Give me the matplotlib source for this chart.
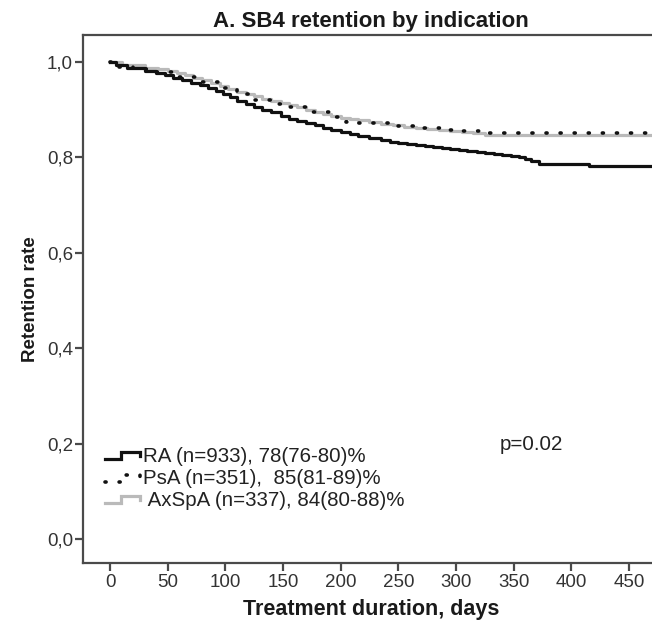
import matplotlib
matplotlib.use("Agg")
import matplotlib.pyplot as plt

plt.rcParams['font.family'] = ['Liberation Sans', 'DejaVu Sans']

# ---- data ----
ra_days = [0, 5, 15, 30, 40, 48, 55, 62, 70, 78, 85, 92, 98, 104, 110, 118, 125, 132,
           140, 148, 155, 162, 170, 178, 185, 192, 200, 208, 215, 225, 235, 243, 250,
           258, 265, 273, 280, 288, 295, 303, 310, 318, 325, 333, 340, 348, 355, 360,
           365, 372, 415, 477]
ra_surv = [1.0, 0.993, 0.988, 0.982, 0.977, 0.972, 0.967, 0.962, 0.957, 0.951, 0.945,
           0.939, 0.933, 0.926, 0.919, 0.911, 0.905, 0.900, 0.895, 0.887, 0.881, 0.877,
           0.872, 0.867, 0.862, 0.858, 0.853, 0.849, 0.845, 0.840, 0.836, 0.833, 0.830,
           0.828, 0.826, 0.824, 0.822, 0.820, 0.818, 0.816, 0.814, 0.812, 0.810, 0.808,
           0.806, 0.803, 0.800, 0.797, 0.792, 0.787, 0.782, 0.782]

psa_days = [0, 8, 20, 40, 60, 80, 95, 110, 125, 140, 155, 170, 190, 205, 215, 250, 270,
            290, 305, 320, 477]
psa_surv = [1.0, 0.99, 0.985, 0.978, 0.968, 0.958, 0.946, 0.932, 0.920, 0.912, 0.905,
            0.895, 0.885, 0.875, 0.872, 0.866, 0.862, 0.858, 0.856, 0.851, 0.851]

axspa_days = [0, 10, 30, 42, 50, 58, 65, 72, 80, 88, 95, 102, 110, 118, 125, 132, 140,
              148, 155, 162, 170, 178, 185, 192, 200, 208, 215, 225, 235, 245, 255, 265,
              275, 285, 295, 305, 315, 325, 477]
axspa_surv = [1.0, 0.993, 0.988, 0.985, 0.982, 0.977, 0.972, 0.967, 0.962, 0.956, 0.950,
              0.944, 0.938, 0.933, 0.928, 0.923, 0.918, 0.914, 0.910, 0.905, 0.900, 0.895,
              0.890, 0.886, 0.883, 0.880, 0.878, 0.874, 0.870, 0.867, 0.864, 0.862, 0.860,
              0.858, 0.856, 0.854, 0.852, 0.846, 0.846]

labels = ["RA (n=933), 78(76-80)%", "PsA (n=351),  85(81-89)%", " AxSpA (n=337), 84(80-88)%"]
x_ticks = [0, 50, 100, 150, 200, 250, 300, 350, 400, 450]
y_ticks = [0.0, 0.2, 0.4, 0.6, 0.8, 1.0]
y_ticklabels = ["0,0", "0,2", "0,4", "0,6", "0,8", "1,0"]
title = "A. SB4 retention by indication"
xlabel = "Treatment duration, days"
ylabel = "Retention rate"
ptext = "p=0.02"

W, H = 652, 630
AX_L, AX_R, AX_T, AX_B = 82.7, 660.0, 35.0, 563.0

fig = plt.figure(figsize=(W / 100, H / 100), dpi=100)
ax = fig.add_axes([AX_L / W, (H - AX_B) / H, (AX_R - AX_L) / W, (AX_B - AX_T) / H])

BLACK = '#111111'
GRAY = '#bababa'
DOTS = (0, (0.3, 3.6))

ax.plot(axspa_days, axspa_surv, drawstyle='steps-post', color=GRAY, lw=2.3)
ax.plot(ra_days, ra_surv, drawstyle='steps-post', color=BLACK, lw=2.3)
ax.plot(psa_days, psa_surv, drawstyle='steps-post', color=BLACK, lw=2.6,
        linestyle=DOTS, dash_capstyle='round')

ax.set_xlim(-23.7, 477)
ax.set_ylim(-0.0503, 1.0566)
ax.set_xticks(x_ticks)
ax.set_yticks(y_ticks)
ax.set_yticklabels(y_ticklabels)

for s in ['left', 'bottom', 'top', 'right']:
    ax.spines[s].set_color('#4a4a4a')
    ax.spines[s].set_linewidth(1.6)
ax.tick_params(axis='both', direction='out', length=6, width=1.6, color='#4a4a4a',
               labelsize=13.5, labelcolor='#333333')
ax.tick_params(axis='x', pad=2)
ax.tick_params(axis='y', pad=1)

ax.set_title(title, fontsize=16, fontweight='bold', pad=6, color='#1a1a1a')
ax.set_xlabel(xlabel, fontsize=15.5, fontweight='bold', labelpad=6, color='#1a1a1a')
ax.set_ylabel(ylabel, fontsize=13.5, fontweight='bold', labelpad=6, color='#1a1a1a')


def px_to_ax(x, y):
    return (x - AX_L) / (AX_R - AX_L), (AX_B - y) / (AX_B - AX_T)


# legend drawn by hand with step-shaped keys
rows = [(456, BLACK, '-', 2.3, labels[0]),
        (479, BLACK, DOTS, 2.6, labels[1]),
        (500, GRAY, '-', 2.3, labels[2])]
for yc, col, ls, lw, lab in rows:
    xs_px = [105, 121, 121, 140, 140]
    ys_px = [yc + 3, yc + 3, yc - 4, yc - 4, yc]
    pts = [px_to_ax(a, b) for a, b in zip(xs_px, ys_px)]
    ax.plot([p[0] for p in pts], [p[1] for p in pts], transform=ax.transAxes,
            color=col, lw=lw, linestyle=ls, dash_capstyle='round',
            solid_joinstyle='miter', clip_on=False)
    tx, ty = px_to_ax(143, yc)
    ax.text(tx, ty, lab, transform=ax.transAxes, fontsize=14.8, color='#222222',
            ha='left', va='center')

px, py = px_to_ax(563, 445)
ax.text(px, py, ptext, transform=ax.transAxes, fontsize=14.8, color='#222222',
        ha='right', va='center')

fig.savefig('out.png', dpi=100)
